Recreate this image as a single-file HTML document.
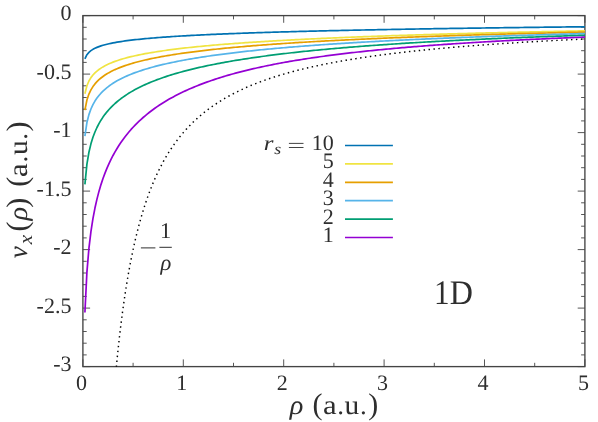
<!DOCTYPE html>
<html><head><meta charset="utf-8"><title>v_x(rho) 1D</title>
<style>html,body{margin:0;padding:0;background:#fff;}svg{display:block;will-change:transform;}text{font-family:"Liberation Serif",serif;text-rendering:geometricPrecision;}</style>
</head><body>
<svg width="598" height="422" viewBox="0 0 598 422">
<rect width="598" height="422" fill="#fff"/>
<rect x="82.9" y="15.6" width="502.00" height="351.00" fill="none" stroke="#444" stroke-width="1.35"/>
<path d="M82.90,366.60v-7.2M82.90,15.60v7.2M133.10,366.60v-3.8M133.10,15.60v3.8M183.30,366.60v-7.2M183.30,15.60v7.2M233.50,366.60v-3.8M233.50,15.60v3.8M283.70,366.60v-7.2M283.70,15.60v7.2M333.90,366.60v-3.8M333.90,15.60v3.8M384.10,366.60v-7.2M384.10,15.60v7.2M434.30,366.60v-3.8M434.30,15.60v3.8M484.50,366.60v-7.2M484.50,15.60v7.2M534.70,366.60v-3.8M534.70,15.60v3.8M584.90,366.60v-7.2M584.90,15.60v7.2M82.90,15.60h7.2M584.90,15.60h-7.2M82.90,27.30h3.8M584.90,27.30h-3.8M82.90,39.00h3.8M584.90,39.00h-3.8M82.90,50.70h3.8M584.90,50.70h-3.8M82.90,62.40h3.8M584.90,62.40h-3.8M82.90,74.10h7.2M584.90,74.10h-7.2M82.90,85.80h3.8M584.90,85.80h-3.8M82.90,97.50h3.8M584.90,97.50h-3.8M82.90,109.20h3.8M584.90,109.20h-3.8M82.90,120.90h3.8M584.90,120.90h-3.8M82.90,132.60h7.2M584.90,132.60h-7.2M82.90,144.30h3.8M584.90,144.30h-3.8M82.90,156.00h3.8M584.90,156.00h-3.8M82.90,167.70h3.8M584.90,167.70h-3.8M82.90,179.40h3.8M584.90,179.40h-3.8M82.90,191.10h7.2M584.90,191.10h-7.2M82.90,202.80h3.8M584.90,202.80h-3.8M82.90,214.50h3.8M584.90,214.50h-3.8M82.90,226.20h3.8M584.90,226.20h-3.8M82.90,237.90h3.8M584.90,237.90h-3.8M82.90,249.60h7.2M584.90,249.60h-7.2M82.90,261.30h3.8M584.90,261.30h-3.8M82.90,273.00h3.8M584.90,273.00h-3.8M82.90,284.70h3.8M584.90,284.70h-3.8M82.90,296.40h3.8M584.90,296.40h-3.8M82.90,308.10h7.2M584.90,308.10h-7.2M82.90,319.80h3.8M584.90,319.80h-3.8M82.90,331.50h3.8M584.90,331.50h-3.8M82.90,343.20h3.8M584.90,343.20h-3.8M82.90,354.90h3.8M584.90,354.90h-3.8M82.90,366.60h7.2M584.90,366.60h-7.2" stroke="#444" stroke-width="0.9" fill="none"/>
<polyline points="84.91,58.77 86.92,54.71 88.92,52.34 90.93,50.66 92.94,49.35 94.95,48.29 96.96,47.38 98.96,46.60 100.97,45.91 102.98,45.30 104.99,44.74 107.00,44.23 109.00,43.76 111.01,43.33 113.02,42.93 115.03,42.55 117.04,42.20 119.04,41.86 121.05,41.55 123.06,41.25 125.07,40.96 127.08,40.69 129.08,40.43 131.09,40.18 133.10,39.94 135.11,39.71 137.12,39.49 139.12,39.28 141.13,39.08 143.14,38.88 145.15,38.69 147.16,38.50 149.16,38.32 151.17,38.15 153.18,37.98 155.19,37.82 157.20,37.66 159.20,37.50 161.21,37.35 163.22,37.20 165.23,37.06 167.24,36.92 169.24,36.78 171.25,36.65 173.26,36.52 175.27,36.39 177.28,36.26 179.28,36.14 181.29,36.02 183.30,35.90 185.31,35.79 187.32,35.67 189.32,35.56 191.33,35.46 193.34,35.35 195.35,35.24 197.36,35.14 199.36,35.04 201.37,34.94 203.38,34.84 205.39,34.75 207.40,34.65 209.40,34.56 211.41,34.47 213.42,34.38 215.43,34.29 217.44,34.20 219.44,34.12 221.45,34.03 223.46,33.95 225.47,33.87 227.48,33.79 229.48,33.71 231.49,33.63 233.50,33.55 235.51,33.48 237.52,33.40 239.52,33.33 241.53,33.25 243.54,33.18 245.55,33.11 247.56,33.04 249.56,32.97 251.57,32.90 253.58,32.83 255.59,32.76 257.60,32.70 259.60,32.63 261.61,32.57 263.62,32.50 265.63,32.44 267.64,32.37 269.64,32.31 271.65,32.25 273.66,32.19 275.67,32.13 277.68,32.07 279.68,32.01 281.69,31.95 283.70,31.90 285.71,31.84 287.72,31.78 289.72,31.73 291.73,31.67 293.74,31.62 295.75,31.56 297.76,31.51 299.76,31.45 301.77,31.40 303.78,31.35 305.79,31.30 307.80,31.25 309.80,31.20 311.81,31.15 313.82,31.10 315.83,31.05 317.84,31.00 319.84,30.95 321.85,30.90 323.86,30.85 325.87,30.81 327.88,30.76 329.88,30.71 331.89,30.67 333.90,30.62 335.91,30.58 337.92,30.53 339.92,30.49 341.93,30.44 343.94,30.40 345.95,30.35 347.96,30.31 349.96,30.27 351.97,30.23 353.98,30.18 355.99,30.14 358.00,30.10 360.00,30.06 362.01,30.02 364.02,29.98 366.03,29.94 368.04,29.90 370.04,29.86 372.05,29.82 374.06,29.78 376.07,29.74 378.08,29.70 380.08,29.66 382.09,29.63 384.10,29.59 386.11,29.55 388.12,29.51 390.12,29.48 392.13,29.44 394.14,29.40 396.15,29.37 398.16,29.33 400.16,29.30 402.17,29.26 404.18,29.23 406.19,29.19 408.20,29.16 410.20,29.12 412.21,29.09 414.22,29.05 416.23,29.02 418.24,28.99 420.24,28.95 422.25,28.92 424.26,28.89 426.27,28.85 428.28,28.82 430.28,28.79 432.29,28.76 434.30,28.72 436.31,28.69 438.32,28.66 440.32,28.63 442.33,28.60 444.34,28.57 446.35,28.54 448.36,28.51 450.36,28.47 452.37,28.44 454.38,28.41 456.39,28.38 458.40,28.35 460.40,28.32 462.41,28.30 464.42,28.27 466.43,28.24 468.44,28.21 470.44,28.18 472.45,28.15 474.46,28.12 476.47,28.09 478.48,28.07 480.48,28.04 482.49,28.01 484.50,27.98 486.51,27.95 488.52,27.93 490.52,27.90 492.53,27.87 494.54,27.85 496.55,27.82 498.56,27.79 500.56,27.77 502.57,27.74 504.58,27.71 506.59,27.69 508.60,27.66 510.60,27.64 512.61,27.61 514.62,27.58 516.63,27.56 518.64,27.53 520.64,27.51 522.65,27.48 524.66,27.46 526.67,27.43 528.68,27.41 530.68,27.38 532.69,27.36 534.70,27.34 536.71,27.31 538.72,27.29 540.72,27.26 542.73,27.24 544.74,27.22 546.75,27.19 548.76,27.17 550.76,27.15 552.77,27.12 554.78,27.10 556.79,27.08 558.80,27.05 560.80,27.03 562.81,27.01 564.82,26.98 566.83,26.96 568.84,26.94 570.84,26.92 572.85,26.89 574.86,26.87 576.87,26.85 578.88,26.83 580.88,26.81 582.89,26.79 584.90,26.76" fill="none" stroke="#0072B2" stroke-width="1.7" stroke-linejoin="round" stroke-linecap="butt"/>
<polyline points="84.91,93.82 86.92,85.71 88.92,80.97 90.93,77.61 92.94,75.00 94.95,72.86 96.96,71.06 98.96,69.50 100.97,68.12 102.98,66.89 104.99,65.78 107.00,64.76 109.00,63.83 111.01,62.96 113.02,62.16 115.03,61.40 117.04,60.70 119.04,60.03 121.05,59.40 123.06,58.80 125.07,58.23 127.08,57.69 129.08,57.18 131.09,56.68 133.10,56.21 135.11,55.75 137.12,55.31 139.12,54.89 141.13,54.48 143.14,54.09 145.15,53.71 147.16,53.34 149.16,52.98 151.17,52.64 153.18,52.30 155.19,51.98 157.20,51.66 159.20,51.35 161.21,51.05 163.22,50.76 165.23,50.47 167.24,50.20 169.24,49.93 171.25,49.66 173.26,49.40 175.27,49.15 177.28,48.90 179.28,48.66 181.29,48.42 183.30,48.19 185.31,47.96 187.32,47.74 189.32,47.52 191.33,47.31 193.34,47.10 195.35,46.89 197.36,46.69 199.36,46.49 201.37,46.30 203.38,46.11 205.39,45.92 207.40,45.73 209.40,45.55 211.41,45.37 213.42,45.20 215.43,45.02 217.44,44.85 219.44,44.68 221.45,44.52 223.46,44.36 225.47,44.20 227.48,44.04 229.48,43.88 231.49,43.73 233.50,43.58 235.51,43.43 237.52,43.28 239.52,43.13 241.53,42.99 243.54,42.85 245.55,42.71 247.56,42.57 249.56,42.44 251.57,42.30 253.58,42.17 255.59,42.04 257.60,41.91 259.60,41.78 261.61,41.66 263.62,41.53 265.63,41.41 267.64,41.29 269.64,41.17 271.65,41.05 273.66,40.93 275.67,40.82 277.68,40.70 279.68,40.59 281.69,40.48 283.70,40.36 285.71,40.25 287.72,40.15 289.72,40.04 291.73,39.93 293.74,39.83 295.75,39.72 297.76,39.62 299.76,39.52 301.77,39.42 303.78,39.32 305.79,39.22 307.80,39.12 309.80,39.02 311.81,38.93 313.82,38.83 315.83,38.74 317.84,38.64 319.84,38.55 321.85,38.46 323.86,38.37 325.87,38.28 327.88,38.19 329.88,38.10 331.89,38.01 333.90,37.93 335.91,37.84 337.92,37.76 339.92,37.67 341.93,37.59 343.94,37.50 345.95,37.42 347.96,37.34 349.96,37.26 351.97,37.18 353.98,37.10 355.99,37.02 358.00,36.94 360.00,36.87 362.01,36.79 364.02,36.71 366.03,36.64 368.04,36.56 370.04,36.49 372.05,36.41 374.06,36.34 376.07,36.27 378.08,36.19 380.08,36.12 382.09,36.05 384.10,35.98 386.11,35.91 388.12,35.84 390.12,35.77 392.13,35.70 394.14,35.64 396.15,35.57 398.16,35.50 400.16,35.44 402.17,35.37 404.18,35.30 406.19,35.24 408.20,35.17 410.20,35.11 412.21,35.05 414.22,34.98 416.23,34.92 418.24,34.86 420.24,34.80 422.25,34.74 424.26,34.67 426.27,34.61 428.28,34.55 430.28,34.49 432.29,34.43 434.30,34.38 436.31,34.32 438.32,34.26 440.32,34.20 442.33,34.14 444.34,34.09 446.35,34.03 448.36,33.97 450.36,33.92 452.37,33.86 454.38,33.81 456.39,33.75 458.40,33.70 460.40,33.64 462.41,33.59 464.42,33.54 466.43,33.48 468.44,33.43 470.44,33.38 472.45,33.33 474.46,33.27 476.47,33.22 478.48,33.17 480.48,33.12 482.49,33.07 484.50,33.02 486.51,32.97 488.52,32.92 490.52,32.87 492.53,32.82 494.54,32.77 496.55,32.73 498.56,32.68 500.56,32.63 502.57,32.58 504.58,32.53 506.59,32.49 508.60,32.44 510.60,32.39 512.61,32.35 514.62,32.30 516.63,32.26 518.64,32.21 520.64,32.17 522.65,32.12 524.66,32.08 526.67,32.03 528.68,31.99 530.68,31.94 532.69,31.90 534.70,31.86 536.71,31.81 538.72,31.77 540.72,31.73 542.73,31.68 544.74,31.64 546.75,31.60 548.76,31.56 550.76,31.52 552.77,31.48 554.78,31.43 556.79,31.39 558.80,31.35 560.80,31.31 562.81,31.27 564.82,31.23 566.83,31.19 568.84,31.15 570.84,31.11 572.85,31.07 574.86,31.03 576.87,31.00 578.88,30.96 580.88,30.92 582.89,30.88 584.90,30.84" fill="none" stroke="#F0E442" stroke-width="1.7" stroke-linejoin="round" stroke-linecap="butt"/>
<polyline points="84.91,110.12 86.92,99.98 88.92,94.05 90.93,89.85 92.94,86.58 94.95,83.92 96.96,81.67 98.96,79.72 100.97,78.00 102.98,76.46 104.99,75.07 107.00,73.80 109.00,72.63 111.01,71.55 113.02,70.54 115.03,69.60 117.04,68.72 119.04,67.89 121.05,67.10 123.06,66.36 125.07,65.65 127.08,64.97 129.08,64.33 131.09,63.71 133.10,63.12 135.11,62.55 137.12,62.00 139.12,61.48 141.13,60.97 143.14,60.48 145.15,60.01 147.16,59.55 149.16,59.11 151.17,58.67 153.18,58.26 155.19,57.85 157.20,57.46 159.20,57.08 161.21,56.70 163.22,56.34 165.23,55.98 167.24,55.64 169.24,55.30 171.25,54.97 173.26,54.65 175.27,54.34 177.28,54.03 179.28,53.73 181.29,53.44 183.30,53.15 185.31,52.87 187.32,52.59 189.32,52.32 191.33,52.06 193.34,51.80 195.35,51.54 197.36,51.29 199.36,51.05 201.37,50.81 203.38,50.57 205.39,50.34 207.40,50.11 209.40,49.88 211.41,49.66 213.42,49.45 215.43,49.23 217.44,49.02 219.44,48.81 221.45,48.61 223.46,48.41 225.47,48.21 227.48,48.02 229.48,47.82 231.49,47.64 233.50,47.45 235.51,47.27 237.52,47.08 239.52,46.91 241.53,46.73 243.54,46.56 245.55,46.38 247.56,46.22 249.56,46.05 251.57,45.88 253.58,45.72 255.59,45.56 257.60,45.40 259.60,45.25 261.61,45.09 263.62,44.94 265.63,44.79 267.64,44.64 269.64,44.49 271.65,44.35 273.66,44.20 275.67,44.06 277.68,43.92 279.68,43.78 281.69,43.64 283.70,43.51 285.71,43.37 287.72,43.24 289.72,43.11 291.73,42.98 293.74,42.85 295.75,42.72 297.76,42.60 299.76,42.47 301.77,42.35 303.78,42.23 305.79,42.11 307.80,41.99 309.80,41.87 311.81,41.75 313.82,41.64 315.83,41.52 317.84,41.41 319.84,41.30 321.85,41.19 323.86,41.08 325.87,40.97 327.88,40.86 329.88,40.75 331.89,40.65 333.90,40.54 335.91,40.44 337.92,40.33 339.92,40.23 341.93,40.13 343.94,40.03 345.95,39.93 347.96,39.83 349.96,39.73 351.97,39.63 353.98,39.54 355.99,39.44 358.00,39.35 360.00,39.25 362.01,39.16 364.02,39.07 366.03,38.98 368.04,38.89 370.04,38.80 372.05,38.71 374.06,38.62 376.07,38.53 378.08,38.45 380.08,38.36 382.09,38.27 384.10,38.19 386.11,38.10 388.12,38.02 390.12,37.94 392.13,37.86 394.14,37.77 396.15,37.69 398.16,37.61 400.16,37.53 402.17,37.45 404.18,37.38 406.19,37.30 408.20,37.22 410.20,37.14 412.21,37.07 414.22,36.99 416.23,36.92 418.24,36.84 420.24,36.77 422.25,36.69 424.26,36.62 426.27,36.55 428.28,36.48 430.28,36.41 432.29,36.34 434.30,36.26 436.31,36.20 438.32,36.13 440.32,36.06 442.33,35.99 444.34,35.92 446.35,35.85 448.36,35.79 450.36,35.72 452.37,35.65 454.38,35.59 456.39,35.52 458.40,35.46 460.40,35.39 462.41,35.33 464.42,35.27 466.43,35.20 468.44,35.14 470.44,35.08 472.45,35.02 474.46,34.95 476.47,34.89 478.48,34.83 480.48,34.77 482.49,34.71 484.50,34.65 486.51,34.59 488.52,34.53 490.52,34.48 492.53,34.42 494.54,34.36 496.55,34.30 498.56,34.25 500.56,34.19 502.57,34.13 504.58,34.08 506.59,34.02 508.60,33.97 510.60,33.91 512.61,33.86 514.62,33.80 516.63,33.75 518.64,33.70 520.64,33.64 522.65,33.59 524.66,33.54 526.67,33.48 528.68,33.43 530.68,33.38 532.69,33.33 534.70,33.28 536.71,33.23 538.72,33.18 540.72,33.13 542.73,33.08 544.74,33.03 546.75,32.98 548.76,32.93 550.76,32.88 552.77,32.83 554.78,32.78 556.79,32.73 558.80,32.69 560.80,32.64 562.81,32.59 564.82,32.54 566.83,32.50 568.84,32.45 570.84,32.41 572.85,32.36 574.86,32.31 576.87,32.27 578.88,32.22 580.88,32.18 582.89,32.13 584.90,32.09" fill="none" stroke="#E69F00" stroke-width="1.7" stroke-linejoin="round" stroke-linecap="butt"/>
<polyline points="84.91,136.01 86.92,122.50 88.92,114.59 90.93,108.99 92.94,104.64 94.95,101.09 96.96,98.09 98.96,95.49 100.97,93.20 102.98,91.15 104.99,89.29 107.00,87.60 109.00,86.05 111.01,84.61 113.02,83.28 115.03,82.03 117.04,80.85 119.04,79.75 121.05,78.70 123.06,77.71 125.07,76.77 127.08,75.87 129.08,75.02 131.09,74.20 133.10,73.41 135.11,72.66 137.12,71.94 139.12,71.24 141.13,70.57 143.14,69.92 145.15,69.29 147.16,68.69 149.16,68.10 151.17,67.53 153.18,66.98 155.19,66.44 157.20,65.92 159.20,65.42 161.21,64.93 163.22,64.45 165.23,63.98 167.24,63.53 169.24,63.08 171.25,62.65 173.26,62.23 175.27,61.81 177.28,61.41 179.28,61.02 181.29,60.63 183.30,60.25 185.31,59.89 187.32,59.52 189.32,59.17 191.33,58.82 193.34,58.48 195.35,58.15 197.36,57.82 199.36,57.50 201.37,57.18 203.38,56.87 205.39,56.57 207.40,56.27 209.40,55.98 211.41,55.69 213.42,55.41 215.43,55.13 217.44,54.85 219.44,54.58 221.45,54.32 223.46,54.06 225.47,53.80 227.48,53.55 229.48,53.30 231.49,53.05 233.50,52.81 235.51,52.57 237.52,52.34 239.52,52.11 241.53,51.88 243.54,51.65 245.55,51.43 247.56,51.21 249.56,51.00 251.57,50.79 253.58,50.58 255.59,50.37 257.60,50.17 259.60,49.96 261.61,49.76 263.62,49.57 265.63,49.37 267.64,49.18 269.64,48.99 271.65,48.81 273.66,48.62 275.67,48.44 277.68,48.26 279.68,48.08 281.69,47.91 283.70,47.73 285.71,47.56 287.72,47.39 289.72,47.22 291.73,47.06 293.74,46.89 295.75,46.73 297.76,46.57 299.76,46.41 301.77,46.25 303.78,46.10 305.79,45.95 307.80,45.79 309.80,45.64 311.81,45.50 313.82,45.35 315.83,45.20 317.84,45.06 319.84,44.92 321.85,44.77 323.86,44.63 325.87,44.50 327.88,44.36 329.88,44.22 331.89,44.09 333.90,43.96 335.91,43.82 337.92,43.69 339.92,43.56 341.93,43.44 343.94,43.31 345.95,43.18 347.96,43.06 349.96,42.94 351.97,42.81 353.98,42.69 355.99,42.57 358.00,42.46 360.00,42.34 362.01,42.22 364.02,42.11 366.03,41.99 368.04,41.88 370.04,41.76 372.05,41.65 374.06,41.54 376.07,41.43 378.08,41.32 380.08,41.22 382.09,41.11 384.10,41.00 386.11,40.90 388.12,40.79 390.12,40.69 392.13,40.59 394.14,40.49 396.15,40.39 398.16,40.29 400.16,40.19 402.17,40.09 404.18,39.99 406.19,39.89 408.20,39.80 410.20,39.70 412.21,39.61 414.22,39.52 416.23,39.42 418.24,39.33 420.24,39.24 422.25,39.15 424.26,39.06 426.27,38.97 428.28,38.88 430.28,38.79 432.29,38.70 434.30,38.62 436.31,38.53 438.32,38.45 440.32,38.36 442.33,38.28 444.34,38.19 446.35,38.11 448.36,38.03 450.36,37.95 452.37,37.87 454.38,37.78 456.39,37.70 458.40,37.63 460.40,37.55 462.41,37.47 464.42,37.39 466.43,37.31 468.44,37.24 470.44,37.16 472.45,37.08 474.46,37.01 476.47,36.94 478.48,36.86 480.48,36.79 482.49,36.71 484.50,36.64 486.51,36.57 488.52,36.50 490.52,36.43 492.53,36.36 494.54,36.29 496.55,36.22 498.56,36.15 500.56,36.08 502.57,36.01 504.58,35.94 506.59,35.88 508.60,35.81 510.60,35.74 512.61,35.68 514.62,35.61 516.63,35.55 518.64,35.48 520.64,35.42 522.65,35.35 524.66,35.29 526.67,35.23 528.68,35.16 530.68,35.10 532.69,35.04 534.70,34.98 536.71,34.92 538.72,34.85 540.72,34.79 542.73,34.73 544.74,34.67 546.75,34.62 548.76,34.56 550.76,34.50 552.77,34.44 554.78,34.38 556.79,34.32 558.80,34.27 560.80,34.21 562.81,34.15 564.82,34.10 566.83,34.04 568.84,33.99 570.84,33.93 572.85,33.88 574.86,33.82 576.87,33.77 578.88,33.71 580.88,33.66 582.89,33.61 584.90,33.55" fill="none" stroke="#56B4E9" stroke-width="1.7" stroke-linejoin="round" stroke-linecap="butt"/>
<polyline points="84.91,184.36 86.92,164.09 88.92,152.24 90.93,143.83 92.94,137.31 94.95,131.99 96.96,127.50 98.96,123.61 100.97,120.18 102.98,117.11 104.99,114.35 107.00,111.82 109.00,109.50 111.01,107.36 113.02,105.36 115.03,103.50 117.04,101.75 119.04,100.10 121.05,98.55 123.06,97.08 125.07,95.68 127.08,94.35 129.08,93.08 131.09,91.87 133.10,90.70 135.11,89.59 137.12,88.52 139.12,87.49 141.13,86.50 143.14,85.54 145.15,84.62 147.16,83.73 149.16,82.86 151.17,82.03 153.18,81.22 155.19,80.43 157.20,79.67 159.20,78.93 161.21,78.21 163.22,77.51 165.23,76.83 167.24,76.17 169.24,75.52 171.25,74.89 173.26,74.28 175.27,73.68 177.28,73.09 179.28,72.52 181.29,71.96 183.30,71.42 185.31,70.88 187.32,70.36 189.32,69.85 191.33,69.35 193.34,68.86 195.35,68.38 197.36,67.91 199.36,67.45 201.37,67.00 203.38,66.55 205.39,66.12 207.40,65.69 209.40,65.27 211.41,64.86 213.42,64.46 215.43,64.06 217.44,63.67 219.44,63.29 221.45,62.91 223.46,62.54 225.47,62.18 227.48,61.82 229.48,61.47 231.49,61.12 233.50,60.78 235.51,60.44 237.52,60.11 239.52,59.79 241.53,59.47 243.54,59.15 245.55,58.84 247.56,58.54 249.56,58.23 251.57,57.94 253.58,57.64 255.59,57.36 257.60,57.07 259.60,56.79 261.61,56.51 263.62,56.24 265.63,55.97 267.64,55.71 269.64,55.44 271.65,55.19 273.66,54.93 275.67,54.68 277.68,54.43 279.68,54.19 281.69,53.94 283.70,53.71 285.71,53.47 287.72,53.24 289.72,53.01 291.73,52.78 293.74,52.56 295.75,52.33 297.76,52.11 299.76,51.90 301.77,51.68 303.78,51.47 305.79,51.26 307.80,51.06 309.80,50.85 311.81,50.65 313.82,50.45 315.83,50.26 317.84,50.06 319.84,49.87 321.85,49.68 323.86,49.49 325.87,49.30 327.88,49.12 329.88,48.94 331.89,48.76 333.90,48.58 335.91,48.40 337.92,48.23 339.92,48.05 341.93,47.88 343.94,47.71 345.95,47.55 347.96,47.38 349.96,47.22 351.97,47.05 353.98,46.89 355.99,46.74 358.00,46.58 360.00,46.42 362.01,46.27 364.02,46.11 366.03,45.96 368.04,45.81 370.04,45.67 372.05,45.52 374.06,45.37 376.07,45.23 378.08,45.09 380.08,44.94 382.09,44.80 384.10,44.67 386.11,44.53 388.12,44.39 390.12,44.26 392.13,44.12 394.14,43.99 396.15,43.86 398.16,43.73 400.16,43.60 402.17,43.47 404.18,43.35 406.19,43.22 408.20,43.10 410.20,42.97 412.21,42.85 414.22,42.73 416.23,42.61 418.24,42.49 420.24,42.37 422.25,42.25 424.26,42.14 426.27,42.02 428.28,41.91 430.28,41.80 432.29,41.68 434.30,41.57 436.31,41.46 438.32,41.35 440.32,41.24 442.33,41.14 444.34,41.03 446.35,40.92 448.36,40.82 450.36,40.71 452.37,40.61 454.38,40.51 456.39,40.41 458.40,40.31 460.40,40.21 462.41,40.11 464.42,40.01 466.43,39.91 468.44,39.81 470.44,39.72 472.45,39.62 474.46,39.53 476.47,39.43 478.48,39.34 480.48,39.25 482.49,39.16 484.50,39.06 486.51,38.97 488.52,38.88 490.52,38.79 492.53,38.71 494.54,38.62 496.55,38.53 498.56,38.44 500.56,38.36 502.57,38.27 504.58,38.19 506.59,38.10 508.60,38.02 510.60,37.94 512.61,37.86 514.62,37.77 516.63,37.69 518.64,37.61 520.64,37.53 522.65,37.45 524.66,37.38 526.67,37.30 528.68,37.22 530.68,37.14 532.69,37.07 534.70,36.99 536.71,36.91 538.72,36.84 540.72,36.76 542.73,36.69 544.74,36.62 546.75,36.54 548.76,36.47 550.76,36.40 552.77,36.33 554.78,36.26 556.79,36.19 558.80,36.12 560.80,36.05 562.81,35.98 564.82,35.91 566.83,35.84 568.84,35.77 570.84,35.70 572.85,35.64 574.86,35.57 576.87,35.51 578.88,35.44 580.88,35.37 582.89,35.31 584.90,35.24" fill="none" stroke="#009E73" stroke-width="1.7" stroke-linejoin="round" stroke-linecap="butt"/>
<polyline points="84.91,312.58 86.92,272.06 88.92,248.39 90.93,231.61 92.94,218.63 94.95,208.04 96.96,199.11 98.96,191.40 100.97,184.61 102.98,178.56 104.99,173.10 107.00,168.13 109.00,163.58 111.01,159.38 113.02,155.48 115.03,151.85 117.04,148.46 119.04,145.27 121.05,142.26 123.06,139.42 125.07,136.74 127.08,134.18 129.08,131.76 131.09,129.44 133.10,127.23 135.11,125.12 137.12,123.10 139.12,121.16 141.13,119.30 143.14,117.50 145.15,115.78 147.16,114.12 149.16,112.52 151.17,110.97 153.18,109.48 155.19,108.04 157.20,106.64 159.20,105.29 161.21,103.97 163.22,102.70 165.23,101.47 167.24,100.27 169.24,99.11 171.25,97.98 173.26,96.88 175.27,95.81 177.28,94.77 179.28,93.76 181.29,92.77 183.30,91.81 185.31,90.87 187.32,89.96 189.32,89.07 191.33,88.20 193.34,87.35 195.35,86.52 197.36,85.71 199.36,84.91 201.37,84.14 203.38,83.38 205.39,82.64 207.40,81.91 209.40,81.20 211.41,80.51 213.42,79.83 215.43,79.16 217.44,78.51 219.44,77.87 221.45,77.24 223.46,76.63 225.47,76.03 227.48,75.44 229.48,74.86 231.49,74.29 233.50,73.73 235.51,73.18 237.52,72.65 239.52,72.12 241.53,71.60 243.54,71.09 245.55,70.59 247.56,70.10 249.56,69.62 251.57,69.14 253.58,68.68 255.59,68.22 257.60,67.77 259.60,67.32 261.61,66.89 263.62,66.46 265.63,66.04 267.64,65.62 269.64,65.21 271.65,64.81 273.66,64.42 275.67,64.03 277.68,63.64 279.68,63.27 281.69,62.89 283.70,62.53 285.71,62.17 287.72,61.81 289.72,61.46 291.73,61.12 293.74,60.78 295.75,60.44 297.76,60.11 299.76,59.79 301.77,59.47 303.78,59.15 305.79,58.84 307.80,58.53 309.80,58.23 311.81,57.93 313.82,57.63 315.83,57.34 317.84,57.06 319.84,56.77 321.85,56.49 323.86,56.22 325.87,55.94 327.88,55.68 329.88,55.41 331.89,55.15 333.90,54.89 335.91,54.63 337.92,54.38 339.92,54.13 341.93,53.89 343.94,53.65 345.95,53.41 347.96,53.17 349.96,52.93 351.97,52.70 353.98,52.48 355.99,52.25 358.00,52.03 360.00,51.81 362.01,51.59 364.02,51.37 366.03,51.16 368.04,50.95 370.04,50.74 372.05,50.54 374.06,50.34 376.07,50.13 378.08,49.94 380.08,49.74 382.09,49.55 384.10,49.35 386.11,49.16 388.12,48.98 390.12,48.79 392.13,48.61 394.14,48.43 396.15,48.25 398.16,48.07 400.16,47.89 402.17,47.72 404.18,47.55 406.19,47.38 408.20,47.21 410.20,47.04 412.21,46.88 414.22,46.71 416.23,46.55 418.24,46.39 420.24,46.23 422.25,46.07 424.26,45.92 426.27,45.77 428.28,45.61 430.28,45.46 432.29,45.31 434.30,45.16 436.31,45.02 438.32,44.87 440.32,44.73 442.33,44.59 444.34,44.45 446.35,44.31 448.36,44.17 450.36,44.03 452.37,43.90 454.38,43.76 456.39,43.63 458.40,43.50 460.40,43.37 462.41,43.24 464.42,43.11 466.43,42.98 468.44,42.86 470.44,42.73 472.45,42.61 474.46,42.49 476.47,42.36 478.48,42.24 480.48,42.12 482.49,42.01 484.50,41.89 486.51,41.77 488.52,41.66 490.52,41.54 492.53,41.43 494.54,41.32 496.55,41.21 498.56,41.10 500.56,40.99 502.57,40.88 504.58,40.77 506.59,40.66 508.60,40.56 510.60,40.45 512.61,40.35 514.62,40.25 516.63,40.14 518.64,40.04 520.64,39.94 522.65,39.84 524.66,39.74 526.67,39.64 528.68,39.55 530.68,39.45 532.69,39.35 534.70,39.26 536.71,39.16 538.72,39.07 540.72,38.98 542.73,38.89 544.74,38.79 546.75,38.70 548.76,38.61 550.76,38.52 552.77,38.44 554.78,38.35 556.79,38.26 558.80,38.17 560.80,38.09 562.81,38.00 564.82,37.92 566.83,37.83 568.84,37.75 570.84,37.67 572.85,37.58 574.86,37.50 576.87,37.42 578.88,37.34 580.88,37.26 582.89,37.18 584.90,37.10" fill="none" stroke="#9400D3" stroke-width="1.7" stroke-linejoin="round" stroke-linecap="butt"/>
<polyline points="116.37,366.60 117.15,358.58 117.93,350.93 118.71,343.60 119.50,336.59 120.28,329.87 121.06,323.43 121.84,317.25 122.62,311.31 123.41,305.60 124.19,300.10 124.97,294.82 125.75,289.72 126.54,284.80 127.32,280.06 128.10,275.49 128.88,271.07 129.66,266.79 130.45,262.66 131.23,258.66 132.01,254.79 132.79,251.04 133.57,247.41 134.36,243.88 135.14,240.47 135.92,237.15 136.70,233.93 137.49,230.80 138.27,227.76 139.05,224.80 139.83,221.93 140.61,219.13 141.40,216.41 142.18,213.76 142.96,211.18 143.74,208.67 144.53,206.22 145.31,203.83 146.09,201.50 146.87,199.22 147.65,197.01 148.44,194.84 149.22,192.73 150.00,190.66 150.78,188.64 151.57,186.67 152.35,184.75 153.13,182.86 153.91,181.02 154.69,179.22 155.48,177.45 156.26,175.73 157.04,174.04 157.82,172.39 158.61,170.77 159.39,169.18 160.17,167.62 160.95,166.10 161.73,164.61 162.52,163.14 163.30,161.71 164.08,160.30 164.86,158.92 165.64,157.56 166.43,156.23 167.21,154.93 167.99,153.65 168.77,152.39 169.56,151.16 170.34,149.94 171.12,148.75 171.90,147.58 172.68,146.43 173.47,145.30 174.25,144.19 175.03,143.10 175.81,142.03 176.60,140.97 177.38,139.93 178.16,138.91 178.94,137.91 179.72,136.92 180.51,135.95 181.29,134.99 182.07,134.05 182.85,133.12 183.64,132.21 184.42,131.31 185.20,130.43 185.98,129.56 186.76,128.70 187.55,127.85 188.33,127.02 189.11,126.20 189.89,125.39 190.67,124.59 191.46,123.81 192.24,123.03 193.02,122.27 193.80,121.52 194.59,120.78 195.37,120.05 196.15,119.32 196.93,118.61 197.71,117.91 198.50,117.22 199.28,116.54 200.06,115.86 200.84,115.20 201.63,114.54 202.41,113.89 203.19,113.25 203.97,112.62 204.75,112.00 205.54,111.39 206.32,110.78 207.10,110.18 207.88,109.59 208.67,109.00 209.45,108.43 210.23,107.85 211.01,107.29 211.79,106.74 212.58,106.19 213.36,105.64 214.14,105.11 214.92,104.58 215.71,104.05 216.49,103.53 217.27,103.02 218.05,102.52 218.83,102.02 219.62,101.52 220.40,101.03 221.18,100.55 221.96,100.07 222.74,99.60 223.53,99.13 224.31,98.67 225.09,98.21 225.87,97.76 226.66,97.31 227.44,96.87 228.22,96.43 229.00,96.00 229.78,95.57 230.57,95.15 231.35,94.73 232.13,94.32 232.91,93.91 233.70,93.50 234.48,93.10 235.26,92.70 236.04,92.31 236.82,91.92 237.61,91.53 238.39,91.15 239.17,90.77 239.95,90.40 240.74,90.02 241.52,89.66 242.30,89.29 243.08,88.93 243.86,88.58 244.65,88.22 245.43,87.88 246.21,87.53 246.99,87.19 247.78,86.85 248.56,86.51 249.34,86.18 250.12,85.85 250.90,85.52 251.69,85.20 252.47,84.87 253.25,84.56 254.03,84.24 254.81,83.93 255.60,83.62 256.38,83.31 257.16,83.01 257.94,82.71 258.73,82.41 259.51,82.11 260.29,81.82 261.07,81.53 261.85,81.24 262.64,80.96 263.42,80.67 264.20,80.39 264.98,80.11 265.77,79.84 266.55,79.56 267.33,79.29 268.11,79.02 268.89,78.76 269.68,78.49 270.46,78.23 271.24,77.97 272.02,77.71 272.81,77.46 273.59,77.20 274.37,76.95 275.15,76.70 275.93,76.45 276.72,76.21 277.50,75.96 278.28,75.72 279.06,75.48 279.84,75.25 280.63,75.01 281.41,74.78 282.19,74.54 282.97,74.31 283.76,74.08 284.54,73.86 285.32,73.63 286.10,73.41 286.88,73.19 287.67,72.97 288.45,72.75 289.23,72.53 290.01,72.32 290.80,72.10 291.58,71.89 292.36,71.68 293.14,71.47 293.92,71.27 294.71,71.06 295.49,70.86 296.27,70.65 297.05,70.45 297.84,70.25 298.62,70.05 299.40,69.86 300.18,69.66 300.96,69.47 301.75,69.28 302.53,69.08 303.31,68.90 304.09,68.71 304.88,68.52 305.66,68.33 306.44,68.15 307.22,67.97 308.00,67.78 308.79,67.60 309.57,67.42 310.35,67.25 311.13,67.07 311.91,66.89 312.70,66.72 313.48,66.54 314.26,66.37 315.04,66.20 315.83,66.03 316.61,65.86 317.39,65.70 318.17,65.53 318.95,65.36 319.74,65.20 320.52,65.04 321.30,64.87 322.08,64.71 322.87,64.55 323.65,64.39 324.43,64.23 325.21,64.08 325.99,63.92 326.78,63.77 327.56,63.61 328.34,63.46 329.12,63.31 329.91,63.16 330.69,63.01 331.47,62.86 332.25,62.71 333.03,62.56 333.82,62.42 334.60,62.27 335.38,62.13 336.16,61.98 336.94,61.84 337.73,61.70 338.51,61.56 339.29,61.42 340.07,61.28 340.86,61.14 341.64,61.00 342.42,60.86 343.20,60.73 343.98,60.59 344.77,60.46 345.55,60.32 346.33,60.19 347.11,60.06 347.90,59.93 348.68,59.80 349.46,59.67 350.24,59.54 351.02,59.41 351.81,59.28 352.59,59.16 353.37,59.03 354.15,58.91 354.94,58.78 355.72,58.66 356.50,58.53 357.28,58.41 358.06,58.29 358.85,58.17 359.63,58.05 360.41,57.93 361.19,57.81 361.98,57.69 362.76,57.57 363.54,57.46 364.32,57.34 365.10,57.23 365.89,57.11 366.67,57.00 367.45,56.88 368.23,56.77 369.01,56.66 369.80,56.54 370.58,56.43 371.36,56.32 372.14,56.21 372.93,56.10 373.71,55.99 374.49,55.89 375.27,55.78 376.05,55.67 376.84,55.56 377.62,55.46 378.40,55.35 379.18,55.25 379.97,55.14 380.75,55.04 381.53,54.94 382.31,54.83 383.09,54.73 383.88,54.63 384.66,54.53 385.44,54.43 386.22,54.33 387.01,54.23 387.79,54.13 388.57,54.03 389.35,53.93 390.13,53.83 390.92,53.74 391.70,53.64 392.48,53.54 393.26,53.45 394.05,53.35 394.83,53.26 395.61,53.16 396.39,53.07 397.17,52.98 397.96,52.88 398.74,52.79 399.52,52.70 400.30,52.61 401.08,52.52 401.87,52.43 402.65,52.34 403.43,52.25 404.21,52.16 405.00,52.07 405.78,51.98 406.56,51.89 407.34,51.81 408.12,51.72 408.91,51.63 409.69,51.55 410.47,51.46 411.25,51.37 412.04,51.29 412.82,51.21 413.60,51.12 414.38,51.04 415.16,50.95 415.95,50.87 416.73,50.79 417.51,50.71 418.29,50.62 419.08,50.54 419.86,50.46 420.64,50.38 421.42,50.30 422.20,50.22 422.99,50.14 423.77,50.06 424.55,49.98 425.33,49.90 426.11,49.83 426.90,49.75 427.68,49.67 428.46,49.59 429.24,49.52 430.03,49.44 430.81,49.36 431.59,49.29 432.37,49.21 433.15,49.14 433.94,49.06 434.72,48.99 435.50,48.91 436.28,48.84 437.07,48.77 437.85,48.69 438.63,48.62 439.41,48.55 440.19,48.48 440.98,48.41 441.76,48.33 442.54,48.26 443.32,48.19 444.11,48.12 444.89,48.05 445.67,47.98 446.45,47.91 447.23,47.84 448.02,47.77 448.80,47.70 449.58,47.64 450.36,47.57 451.15,47.50 451.93,47.43 452.71,47.36 453.49,47.30 454.27,47.23 455.06,47.16 455.84,47.10 456.62,47.03 457.40,46.97 458.18,46.90 458.97,46.84 459.75,46.77 460.53,46.71 461.31,46.64 462.10,46.58 462.88,46.51 463.66,46.45 464.44,46.39 465.22,46.32 466.01,46.26 466.79,46.20 467.57,46.14 468.35,46.08 469.14,46.01 469.92,45.95 470.70,45.89 471.48,45.83 472.26,45.77 473.05,45.71 473.83,45.65 474.61,45.59 475.39,45.53 476.18,45.47 476.96,45.41 477.74,45.35 478.52,45.29 479.30,45.23 480.09,45.18 480.87,45.12 481.65,45.06 482.43,45.00 483.21,44.94 484.00,44.89 484.78,44.83 485.56,44.77 486.34,44.72 487.13,44.66 487.91,44.60 488.69,44.55 489.47,44.49 490.25,44.44 491.04,44.38 491.82,44.33 492.60,44.27 493.38,44.22 494.17,44.16 494.95,44.11 495.73,44.05 496.51,44.00 497.29,43.95 498.08,43.89 498.86,43.84 499.64,43.79 500.42,43.73 501.21,43.68 501.99,43.63 502.77,43.58 503.55,43.53 504.33,43.47 505.12,43.42 505.90,43.37 506.68,43.32 507.46,43.27 508.25,43.22 509.03,43.17 509.81,43.12 510.59,43.07 511.37,43.02 512.16,42.97 512.94,42.92 513.72,42.87 514.50,42.82 515.28,42.77 516.07,42.72 516.85,42.67 517.63,42.62 518.41,42.57 519.20,42.52 519.98,42.48 520.76,42.43 521.54,42.38 522.32,42.33 523.11,42.28 523.89,42.24 524.67,42.19 525.45,42.14 526.24,42.10 527.02,42.05 527.80,42.00 528.58,41.96 529.36,41.91 530.15,41.86 530.93,41.82 531.71,41.77 532.49,41.73 533.28,41.68 534.06,41.64 534.84,41.59 535.62,41.55 536.40,41.50 537.19,41.46 537.97,41.41 538.75,41.37 539.53,41.32 540.32,41.28 541.10,41.24 541.88,41.19 542.66,41.15 543.44,41.11 544.23,41.06 545.01,41.02 545.79,40.98 546.57,40.93 547.35,40.89 548.14,40.85 548.92,40.81 549.70,40.76 550.48,40.72 551.27,40.68 552.05,40.64 552.83,40.60 553.61,40.56 554.39,40.51 555.18,40.47 555.96,40.43 556.74,40.39 557.52,40.35 558.31,40.31 559.09,40.27 559.87,40.23 560.65,40.19 561.43,40.15 562.22,40.11 563.00,40.07 563.78,40.03 564.56,39.99 565.35,39.95 566.13,39.91 566.91,39.87 567.69,39.83 568.47,39.79 569.26,39.75 570.04,39.71 570.82,39.68 571.60,39.64 572.38,39.60 573.17,39.56 573.95,39.52 574.73,39.48 575.51,39.45 576.30,39.41 577.08,39.37 577.86,39.33 578.64,39.30 579.42,39.26 580.21,39.22 580.99,39.18 581.77,39.15 582.55,39.11 583.34,39.07 584.12,39.04 584.90,39.00" fill="none" stroke="#000" stroke-width="1.45" stroke-dasharray="1.45 3.475" stroke-dashoffset="0.3"/>
<g font-family="Liberation Serif, serif" font-size="22" fill="#2e2e2e">
<text x="71.60" y="20.20" text-anchor="end" letter-spacing="0">0</text>
<text x="71.70" y="78.70" text-anchor="end" letter-spacing="0.1">-0.5</text>
<text x="71.70" y="137.20" text-anchor="end" letter-spacing="0.1">-1</text>
<text x="71.70" y="195.70" text-anchor="end" letter-spacing="0.1">-1.5</text>
<text x="71.70" y="254.20" text-anchor="end" letter-spacing="0.1">-2</text>
<text x="71.70" y="312.70" text-anchor="end" letter-spacing="0.1">-2.5</text>
<text x="71.70" y="371.20" text-anchor="end" letter-spacing="0.1">-3</text>
<text x="81.40" y="389.9" text-anchor="middle">0</text>
<text x="181.80" y="389.9" text-anchor="middle">1</text>
<text x="282.20" y="389.9" text-anchor="middle">2</text>
<text x="382.60" y="389.9" text-anchor="middle">3</text>
<text x="483.00" y="389.9" text-anchor="middle">4</text>
<text x="583.40" y="389.9" text-anchor="middle">5</text>
<text x="333.8" y="150.00" text-anchor="end">10</text>
<text x="333.8" y="168.40" text-anchor="end">5</text>
<text x="333.8" y="186.80" text-anchor="end">4</text>
<text x="333.8" y="205.20" text-anchor="end">3</text>
<text x="333.8" y="223.60" text-anchor="end">2</text>
<text x="333.8" y="242.00" text-anchor="end">1</text>
</g>
<line x1="345.0" x2="392.9" y1="145.50" y2="145.50" stroke="#0072B2" stroke-width="1.7"/>
<line x1="345.0" x2="392.9" y1="163.90" y2="163.90" stroke="#F0E442" stroke-width="1.7"/>
<line x1="345.0" x2="392.9" y1="182.30" y2="182.30" stroke="#E69F00" stroke-width="1.7"/>
<line x1="345.0" x2="392.9" y1="200.70" y2="200.70" stroke="#56B4E9" stroke-width="1.7"/>
<line x1="345.0" x2="392.9" y1="219.10" y2="219.10" stroke="#009E73" stroke-width="1.7"/>
<line x1="345.0" x2="392.9" y1="237.50" y2="237.50" stroke="#9400D3" stroke-width="1.7"/>
<text x="263.7" y="150" font-family="Liberation Serif, serif" font-style="italic" font-size="20.5" fill="#2e2e2e" textLength="9.73" lengthAdjust="spacingAndGlyphs">r</text>
<text x="274.2" y="153.5" font-family="Liberation Serif, serif" font-style="italic" font-size="15.5" fill="#2e2e2e" textLength="6.94" lengthAdjust="spacingAndGlyphs">s</text>
<path d="M288.9,143.4h14.6M288.9,147.5h14.6" stroke="#2e2e2e" stroke-width="0.9" fill="none"/>
<text x="434.0" y="303.6" font-family="Liberation Serif, serif" font-size="34.5" fill="#2e2e2e" textLength="15.53" lengthAdjust="spacingAndGlyphs">1</text>
<text x="449.8" y="303.6" font-family="Liberation Serif, serif" font-size="34.5" fill="#2e2e2e" textLength="23.17" lengthAdjust="spacingAndGlyphs">D</text>
<path d="M140.9,247.9h14.5M159.4,247.3h12.4" stroke="#2e2e2e" stroke-width="1" fill="none"/>
<text x="165.5" y="238.1" text-anchor="middle" font-family="Liberation Serif, serif" font-size="22.5" fill="#2e2e2e">1</text>
<text x="160.6" y="270.2" font-family="Liberation Serif, serif" font-style="italic" font-size="22.5" fill="#2e2e2e">ρ</text>
<g font-family="Liberation Serif, serif" fill="#2e2e2e">
<text x="289.80" y="413.50" font-size="27" font-style="italic" textLength="13.61" lengthAdjust="spacingAndGlyphs">ρ</text>
<text x="312.60" y="413.50" font-size="30">(</text>
<text x="322.90" y="413.50" font-size="27" textLength="13.66" lengthAdjust="spacingAndGlyphs">a</text>
<text x="337.20" y="413.50" font-size="27">.</text>
<text x="344.60" y="413.50" font-size="27" textLength="14.72" lengthAdjust="spacingAndGlyphs">u</text>
<text x="360.00" y="413.50" font-size="27">.</text>
<text x="368.30" y="413.50" font-size="30">)</text>
</g>
<g transform="translate(26.9,258.2) rotate(-90)" font-family="Liberation Serif, serif" fill="#2e2e2e">
<text x="-0.10" y="0.00" font-size="27" font-style="italic">v</text>
<text x="13.90" y="4.70" font-size="19.5" font-style="italic" textLength="9.35" lengthAdjust="spacingAndGlyphs">x</text>
<text x="26.60" y="0.00" font-size="30">(</text>
<text x="37.80" y="0.00" font-size="27" font-style="italic" textLength="13.61" lengthAdjust="spacingAndGlyphs">ρ</text>
<text x="50.40" y="0.00" font-size="30">)</text>
<text x="71.50" y="0.00" font-size="30">(</text>
<text x="81.30" y="0.00" font-size="27" textLength="13.66" lengthAdjust="spacingAndGlyphs">a</text>
<text x="95.70" y="0.00" font-size="27">.</text>
<text x="103.30" y="0.00" font-size="27" textLength="14.72" lengthAdjust="spacingAndGlyphs">u</text>
<text x="118.40" y="0.00" font-size="27">.</text>
<text x="126.60" y="0.00" font-size="30">)</text>
</g>
</svg>
</body></html>
